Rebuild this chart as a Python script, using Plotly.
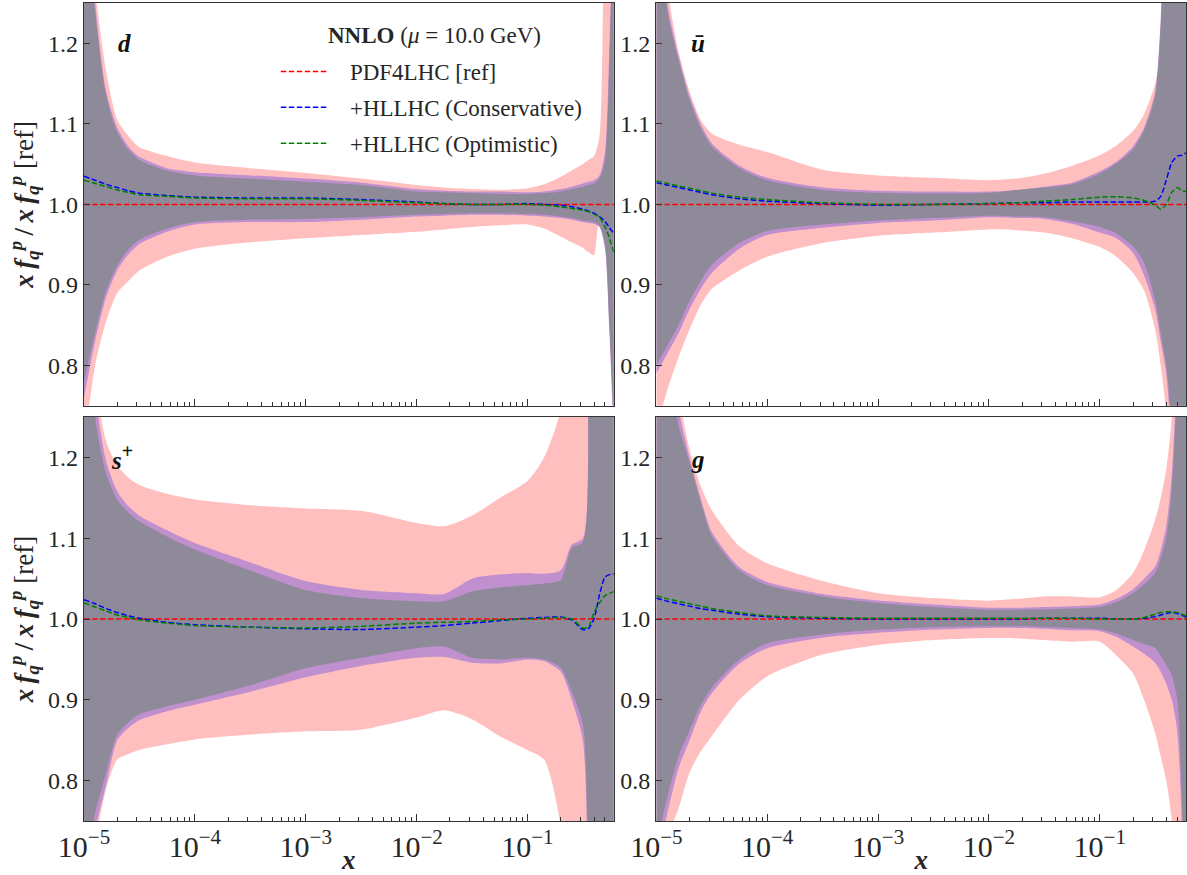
import math
import plotly.graph_objects as go

# ---------------- data ----------------
X = [1.0e-5, 1.259e-5, 1.585e-5, 1.995e-5, 2.512e-5, 3.162e-5, 5.623e-5, 1.0e-4,
     3.162e-4, 1.0e-3, 3.162e-3, 1.0e-2, 1.778e-2, 3.162e-2, 5.623e-2, 0.1,
     0.1413, 0.1995, 0.2512, 0.3162, 0.3548, 0.3981, 0.4467, 0.5012, 0.5495, 0.6026]

REF_CENTRAL = [1.0, 1.0, 1.0, 1.0, 1.0, 1.0, 1.0, 1.0, 1.0, 1.0, 1.0, 1.0, 1.0,
               1.0, 1.0, 1.0, 1.0, 1.0, 1.0, 1.0, 1.0, 1.0, 1.0, 1.0, 1.0, 1.0]

# --- d ---
d_pink_up = [1.45, 1.27, 1.165, 1.105, 1.085, 1.071, 1.060, 1.052, 1.045, 1.039, 1.032, 1.024, 1.021,
             1.019, 1.018, 1.020, 1.025, 1.034, 1.042, 1.050, 1.055, 1.060, 1.085, 1.40, 1.45, 1.45]
d_pink_lo = [0.70, 0.80, 0.855, 0.89, 0.905, 0.918, 0.935, 0.945, 0.953, 0.958, 0.962, 0.966, 0.969,
             0.972, 0.974, 0.975, 0.970, 0.960, 0.953, 0.946, 0.941, 0.937, 0.980, 0.980, 0.980, 0.980]
d_cons_up = [1.42, 1.25, 1.14, 1.095, 1.072, 1.059, 1.045, 1.040, 1.036, 1.032, 1.027, 1.019, 1.017,
             1.016, 1.016, 1.015, 1.016, 1.019, 1.022, 1.026, 1.028, 1.030, 1.036, 1.065, 1.20, 1.42]
d_cons_lo = [0.76, 0.83, 0.885, 0.918, 0.938, 0.951, 0.966, 0.975, 0.978, 0.978, 0.981, 0.985, 0.986,
             0.987, 0.987, 0.986, 0.985, 0.983, 0.981, 0.978, 0.977, 0.976, 0.972, 0.945, 0.84, 0.70]
d_opt_up = [1.40, 1.24, 1.135, 1.09, 1.068, 1.055, 1.042, 1.036, 1.032, 1.028, 1.024, 1.016, 1.015,
            1.014, 1.013, 1.013, 1.014, 1.016, 1.019, 1.022, 1.024, 1.026, 1.032, 1.055, 1.18, 1.40]
d_opt_lo = [0.78, 0.84, 0.893, 0.924, 0.944, 0.956, 0.970, 0.978, 0.981, 0.982, 0.984, 0.987, 0.988,
            0.989, 0.989, 0.988, 0.987, 0.985, 0.983, 0.980, 0.979, 0.978, 0.974, 0.950, 0.85, 0.72]
d_cons_c = [1.035, 1.030, 1.025, 1.021, 1.017, 1.014, 1.011, 1.009, 1.008, 1.008, 1.006, 1.003, 1.001,
            1.000, 1.000, 1.001, 1.000, 0.999, 0.997, 0.994, 0.992, 0.989, 0.985, 0.979, 0.971, 0.964]
d_opt_c = [1.030, 1.026, 1.022, 1.018, 1.015, 1.012, 1.010, 1.008, 1.007, 1.007, 1.005, 1.002, 1.001,
           1.000, 1.000, 1.000, 0.999, 0.997, 0.995, 0.993, 0.991, 0.988, 0.984, 0.972, 0.958, 0.940]

# --- u bar ---
u_pink_up = [1.45, 1.27, 1.19, 1.14, 1.105, 1.088, 1.074, 1.065, 1.043, 1.036, 1.033, 1.030, 1.032,
             1.038, 1.048, 1.061, 1.073, 1.091, 1.112, 1.150, 1.190, 1.300, 1.45, 1.45, 1.45, 1.45]
u_pink_lo = [0.72, 0.77, 0.81, 0.845, 0.875, 0.895, 0.918, 0.935, 0.952, 0.961, 0.965, 0.969, 0.968,
             0.965, 0.958, 0.947, 0.935, 0.915, 0.893, 0.845, 0.80, 0.74, 0.60, 0.55, 0.55, 0.55]
u_cons_up = [1.45, 1.25, 1.185, 1.135, 1.10, 1.076, 1.048, 1.033, 1.021, 1.017, 1.016, 1.016, 1.018,
             1.022, 1.027, 1.041, 1.053, 1.072, 1.095, 1.14, 1.23, 1.45, 1.45, 1.45, 1.45, 1.45]
u_cons_lo = [0.79, 0.815, 0.84, 0.87, 0.895, 0.915, 0.945, 0.962, 0.971, 0.977, 0.980, 0.984, 0.983,
             0.982, 0.976, 0.965, 0.958, 0.940, 0.912, 0.870, 0.830, 0.790, 0.70, 0.55, 0.55, 0.55]
u_opt_up = [1.45, 1.24, 1.18, 1.13, 1.095, 1.072, 1.045, 1.030, 1.018, 1.0145, 1.0135, 1.0145, 1.018,
            1.021, 1.025, 1.038, 1.051, 1.068, 1.092, 1.135, 1.22, 1.40, 1.45, 1.45, 1.45, 1.45]
u_opt_lo = [0.80, 0.825, 0.85, 0.88, 0.905, 0.925, 0.952, 0.967, 0.975, 0.980, 0.983, 0.986, 0.985,
            0.984, 0.979, 0.972, 0.964, 0.948, 0.928, 0.881, 0.84, 0.80, 0.72, 0.55, 0.55, 0.55]
u_cons_c = [1.027, 1.024, 1.021, 1.018, 1.015, 1.012, 1.007, 1.004, 1.001, 0.999, 1.000, 1.001, 1.002,
            1.002, 1.003, 1.003, 1.003, 1.003, 1.003, 1.004, 1.010, 1.030, 1.052, 1.060, 1.061, 1.064]
u_opt_c = [1.029, 1.026, 1.023, 1.020, 1.017, 1.014, 1.009, 1.006, 1.002, 1.000, 1.000, 1.001, 1.002,
           1.004, 1.006, 1.009, 1.0095, 1.008, 1.005, 0.999, 0.994, 1.000, 1.015, 1.021, 1.017, 1.016]

# --- s+ ---
s_pink_up = [1.60, 1.30, 1.22, 1.19, 1.175, 1.166, 1.155, 1.148, 1.141, 1.137, 1.134, 1.119, 1.115,
             1.128, 1.150, 1.171, 1.20, 1.26, 1.45, 1.60, 1.60, 1.60, 1.60, 1.60, 1.60, 1.60]
s_pink_lo = [0.60, 0.72, 0.79, 0.826, 0.833, 0.838, 0.845, 0.851, 0.857, 0.861, 0.863, 0.878, 0.887,
             0.876, 0.855, 0.838, 0.826, 0.745, 0.60, 0.50, 0.50, 0.50, 0.50, 0.50, 0.50, 0.50]
s_cons_up = [1.45, 1.28, 1.195, 1.158, 1.14, 1.128, 1.110, 1.094, 1.070, 1.047, 1.036, 1.032, 1.031,
             1.050, 1.055, 1.057, 1.056, 1.060, 1.092, 1.100, 1.40, 1.45, 1.45, 1.45, 1.45, 1.45]
s_cons_lo = [0.68, 0.74, 0.795, 0.85, 0.865, 0.875, 0.886, 0.894, 0.910, 0.928, 0.942, 0.952, 0.953,
             0.946, 0.945, 0.950, 0.948, 0.935, 0.90, 0.85, 0.68, 0.55, 0.55, 0.55, 0.55, 0.55]
s_opt_up = [1.40, 1.25, 1.18, 1.148, 1.132, 1.121, 1.102, 1.086, 1.060, 1.036, 1.026, 1.022, 1.022,
            1.034, 1.039, 1.042, 1.044, 1.048, 1.088, 1.095, 1.38, 1.45, 1.45, 1.45, 1.45, 1.45]
s_opt_lo = [0.70, 0.76, 0.81, 0.857, 0.872, 0.882, 0.892, 0.900, 0.918, 0.939, 0.952, 0.964, 0.966,
            0.952, 0.950, 0.952, 0.950, 0.940, 0.91, 0.87, 0.70, 0.55, 0.55, 0.55, 0.55, 0.55]
s_cons_c = [1.024, 1.019, 1.013, 1.008, 1.004, 1.001, 0.996, 0.993, 0.990, 0.988, 0.987, 0.990, 0.992,
            0.995, 0.998, 1.001, 1.002, 1.0025, 0.999, 0.987, 0.988, 1.000, 1.030, 1.052, 1.055, 1.056]
s_opt_c = [1.020, 1.015, 1.010, 1.005, 1.002, 0.999, 0.995, 0.992, 0.990, 0.989, 0.991, 0.995, 0.996,
           0.997, 0.999, 1.000, 1.001, 1.002, 1.000, 0.989, 0.990, 1.008, 1.020, 1.029, 1.032, 1.034]

# --- g ---
g_pink_up = [1.50, 1.40, 1.28, 1.21, 1.165, 1.135, 1.09, 1.069, 1.047, 1.032, 1.026, 1.0227, 1.025,
             1.028, 1.028, 1.027, 1.036, 1.057, 1.085, 1.123, 1.150, 1.185, 1.25, 1.45, 1.50, 1.50]
g_pink_lo = [0.62, 0.73, 0.765, 0.81, 0.836, 0.855, 0.90, 0.929, 0.956, 0.968, 0.974, 0.9765, 0.976,
             0.974, 0.972, 0.972, 0.955, 0.933, 0.90, 0.859, 0.83, 0.80, 0.75, 0.60, 0.55, 0.55]
g_cons_up = [1.50, 1.36, 1.26, 1.20, 1.15, 1.108, 1.064, 1.046, 1.031, 1.023, 1.018, 1.014, 1.014,
             1.015, 1.016, 1.018, 1.025, 1.037, 1.050, 1.065, 1.085, 1.115, 1.18, 1.32, 1.47, 1.50]
g_cons_lo = [0.70, 0.76, 0.815, 0.85, 0.885, 0.908, 0.945, 0.964, 0.977, 0.983, 0.987, 0.989, 0.989,
             0.988, 0.986, 0.985, 0.978, 0.966, 0.957, 0.946, 0.935, 0.92, 0.90, 0.86, 0.75, 0.55]
g_opt_up = [1.50, 1.35, 1.24, 1.195, 1.145, 1.103, 1.06, 1.042, 1.028, 1.020, 1.015, 1.0116, 1.0115,
            1.012, 1.013, 1.015, 1.021, 1.032, 1.043, 1.057, 1.075, 1.10, 1.16, 1.30, 1.45, 1.50]
g_opt_lo = [0.72, 0.78, 0.83, 0.862, 0.893, 0.915, 0.95, 0.970, 0.981, 0.987, 0.990, 0.991, 0.991,
            0.990, 0.989, 0.987, 0.982, 0.974, 0.969, 0.964, 0.955, 0.943, 0.93, 0.90, 0.78, 0.55]
g_cons_c = [1.026, 1.022, 1.019, 1.016, 1.013, 1.011, 1.006, 1.003, 1.001, 1.000, 1.000, 1.000, 1.000,
            1.001, 1.001, 1.001, 1.000, 1.000, 1.001, 1.003, 1.005, 1.007, 1.008, 1.007, 1.005, 1.002]
g_opt_c = [1.029, 1.025, 1.022, 1.019, 1.016, 1.013, 1.008, 1.004, 1.002, 1.001, 1.001, 1.001, 1.001,
           1.001, 1.001, 1.000, 1.000, 1.000, 1.002, 1.006, 1.008, 1.009, 1.009, 1.008, 1.006, 1.004]

PANEL_LABELS = ["<b><i>d</i></b>", "<b><i>ū</i></b>",
                "<b><i>s</i></b><sup><b><span style='font-size:20px'>+</span></b></sup>", "<b><i>g</i></b>"]
LEGEND_TITLE = "<b>NNLO</b> (<i>μ</i> = 10.0 GeV)"
SERIES_NAMES = ["PDF4LHC [ref]", "+HLLHC (Conservative)", "+HLLHC (Optimistic)"]
Y_TICKS = [0.8, 0.9, 1.0, 1.1, 1.2]
X_MAX = 0.6

panels = [
    dict(bands=[(d_pink_lo, d_pink_up), (d_cons_lo, d_cons_up), (d_opt_lo, d_opt_up)],
         cons=d_cons_c, opt=d_opt_c),
    dict(bands=[(u_pink_lo, u_pink_up), (u_cons_lo, u_cons_up), (u_opt_lo, u_opt_up)],
         cons=u_cons_c, opt=u_opt_c),
    dict(bands=[(s_pink_lo, s_pink_up), (s_cons_lo, s_cons_up), (s_opt_lo, s_opt_up)],
         cons=s_cons_c, opt=s_opt_c),
    dict(bands=[(g_pink_lo, g_pink_up), (g_cons_lo, g_cons_up), (g_opt_lo, g_opt_up)],
         cons=g_cons_c, opt=g_opt_c),
]

BAND_COLORS = ["#ffbfbf", "#bf8fce", "#8f8a99"]
LINE_COLORS = ["#ff0000", "#0000ff", "#008000"]
FONT = "Liberation Serif"
TXT = "#262626"
AXC = "#333333"
DASH = "5.5px,2.5px"
SPL = dict(shape="spline", smoothing=0.7)

fig = go.Figure()

for i, p in enumerate(panels):
    sfx = "" if i == 0 else str(i + 1)
    xa, ya = "x" + sfx, "y" + sfx
    for (lo, up), col in zip(p["bands"], BAND_COLORS):
        fig.add_trace(go.Scatter(x=X, y=lo, xaxis=xa, yaxis=ya, mode="lines",
                                 line=dict(width=0, color=col, **SPL),
                                 showlegend=False, hoverinfo="skip"))
        fig.add_trace(go.Scatter(x=X, y=up, xaxis=xa, yaxis=ya, mode="lines",
                                 line=dict(width=0, color=col, **SPL),
                                 fill="tonexty", fillcolor=col, showlegend=False, hoverinfo="skip"))
    for k, (yv, col) in enumerate(zip([REF_CENTRAL, p["cons"], p["opt"]], LINE_COLORS)):
        fig.add_trace(go.Scatter(x=X, y=yv, xaxis=xa, yaxis=ya, mode="lines",
                                 line=dict(width=1.5, color=col, dash=DASH, **SPL),
                                 name="\u00a0\u00a0\u2009" + SERIES_NAMES[k], legendgroup=SERIES_NAMES[k],
                                 showlegend=(i == 0), hoverinfo="skip"))

# ---------------- layout (pixel geometry of the reference) ----------------
W, H = 1187, 875
ML, MR, MT, MB = 84.3, 1.3, 3.0, 53.6
PW, PH = W - ML - MR, H - MT - MB


def px_x(px):
    return (px - ML) / PW


def px_y(py):
    return 1 - (py - MT) / PH


XD = [[px_x(84.3), px_x(613.7)], [px_x(656.3), px_x(1185.7)]]
YD = [[px_y(406), px_y(3)], [px_y(821.4), px_y(417.3)]]

common_x = dict(type="log", range=[-5, math.log10(X_MAX)], dtick=1, exponentformat="power",
                ticks="inside", ticklen=7, tickwidth=1, tickcolor=AXC, automargin=False,
                minor=dict(dtick="D1", ticks="inside", ticklen=4, tickwidth=1, tickcolor=AXC, showgrid=False),
                showline=True, linecolor=AXC, linewidth=1.3, mirror=True, showgrid=False, zeroline=False,
                tickfont=dict(family=FONT, size=24, color=TXT))
common_y = dict(range=[0.75, 1.25], tickvals=Y_TICKS, tickformat=".1f", automargin=False,
                ticks="inside", ticklen=6, tickwidth=1, tickcolor=AXC,
                showline=True, linecolor=AXC, linewidth=1.3, mirror=True, showgrid=False, zeroline=False,
                tickfont=dict(family=FONT, size=24, color=TXT))

ytitle = ("<b><i>x\u2009f<sub>q</sub><sup>p</sup></i></b><b>\u2009/\u2009</b>"
          "<b><i>x\u2009f<sub>q</sub><sup>p</sup></i></b> [ref]")
layout = {}
for i in range(4):
    r, c = divmod(i, 2)
    sfx = "" if i == 0 else str(i + 1)
    xa = dict(common_x, domain=XD[c], anchor="y" + sfx, showticklabels=(r == 1))
    ya = dict(common_y, domain=YD[r], anchor="x" + sfx)
    if r == 1:
        xa["title"] = dict(text="<b><i>x</i></b>", font=dict(family=FONT, size=27, color=TXT), standoff=0)
    if c == 0:
        ya["title"] = dict(text=ytitle, font=dict(family=FONT, size=27, color=TXT), standoff=6)
    layout["xaxis" + sfx] = xa
    layout["yaxis" + sfx] = ya

fig.update_layout(**layout)

label_pos = [(0.077, 0.90), (0.078, 0.90), (0.071, 0.902), (0.078, 0.894)]
for i, (lab, (lx, ly)) in enumerate(zip(PANEL_LABELS, label_pos)):
    sfx = "" if i == 0 else str(i + 1)
    fig.add_annotation(text=lab, x=lx, y=ly, xref="x" + sfx + " domain", yref="y" + sfx + " domain",
                       showarrow=False, xanchor="center", yanchor="middle",
                       font=dict(family=FONT, size=25, color="#111111"))

# legend heading
fig.add_annotation(text=LEGEND_TITLE, x=px_x(435), y=px_y(36), xref="paper", yref="paper",
                   showarrow=False, xanchor="center", yanchor="middle",
                   font=dict(family=FONT, size=23, color=TXT))

fig.update_layout(
    width=W, height=H,
    margin=dict(l=ML, r=MR, t=MT, b=MB, pad=0, autoexpand=False),
    paper_bgcolor="white", plot_bgcolor="white",
    font=dict(family=FONT, color=TXT),
    showlegend=True,
    legend=dict(x=px_x(276), y=px_y(50), xanchor="left", yanchor="top",
                bgcolor="rgba(0,0,0,0)", font=dict(family=FONT, size=23, color=TXT),
                tracegroupgap=3, itemwidth=48),
    hovermode=False,
)

fig.write_html("out.html", config={"displayModeBar": False},
               post_script="document.body.style.margin='0px';document.body.style.overflow='hidden';")
